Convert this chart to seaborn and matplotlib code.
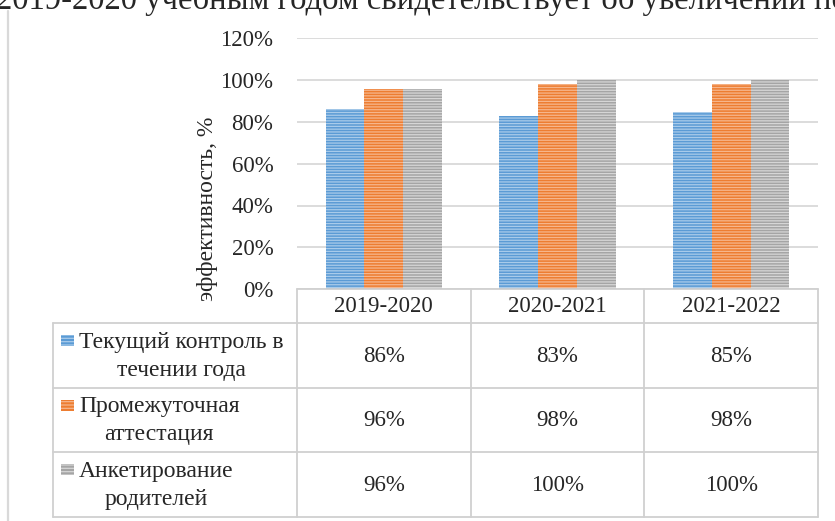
import numpy as np
import pandas as pd

import matplotlib
matplotlib.use('Agg')

from matplotlib import pyplot as plt
from matplotlib.patches import Rectangle
import seaborn as sns

# data
years = ['2019-2020', '2020-2021', '2021-2022']
series = ['Текущий контроль в\nтечении года', 'Промежуточная\nаттестация', 'Анкетирование\nродителей']
current = [86, 83, 85]
interim = [96, 98, 98]
parents = [96, 100, 100]
yticks = [0, 20, 40, 60, 80, 100, 120]
ylabel = 'эффективность, %'
top_text = '2019-2020 учебным годом свидетельствует об увеличении по'

colors = ['#5b9bd5', '#ed7d31', '#a5a5a5']
stripe_colors = ['#a9cbea', '#f6b68c', '#d6d6d6']
grid_color = '#d9d9d9'

W, H = 835, 521

sns.set_style('white')
plt.rcParams['font.family'] = ['Liberation Serif', 'DejaVu Serif']
plt.rcParams['hatch.linewidth'] = 0.9

df = pd.DataFrame({
    'year': years * 3,
    'series': np.repeat(series, len(years)),
    'value': current + interim + parents,
})


def fx(px):
    return px / W


def fy(py):
    return 1 - py / H


fig = plt.figure(figsize=(W / 100, H / 100), dpi=100)

# plot area in pixels
x0, x1 = 297, 818
y0, ytop = 289, 38.5
ax = fig.add_axes([fx(x0), fy(y0), fx(x1) - fx(x0), fy(ytop) - fy(y0)])

sns.barplot(data=df, x='year', y='value', hue='series', palette=colors,
            width=0.67, gap=0, saturation=1, errorbar=None, legend=False,
            ax=ax, zorder=3)

for i, cont in enumerate(ax.containers):
    for bar in cont:
        bar.set_hatch('------')
        bar.set_edgecolor(stripe_colors[i])
        bar.set_linewidth(0)

ax.set_xlim(-0.5, len(years) - 0.5)
ax.set_ylim(0, 120)
ax.set_yticks(yticks)
ax.set_yticklabels([f'{v}%' for v in yticks])
ax.set_xticks([])
ax.set_xlabel('')
ax.set_ylabel('')
ax.tick_params(axis='y', length=0, labelsize=16.5, pad=17)
ax.yaxis.grid(True, color=grid_color, lw=1.3)
ax.set_axisbelow(True)
sns.despine(ax=ax, left=True, bottom=True)

fig.text(fx(207), fy(208.5), ylabel, rotation=90, ha='center', va='center', fontsize=17)

# clipped sentence at the top of the page
fig.text(fx(-4), fy(9.5), top_text, ha='left', va='baseline', fontsize=23.5)

# data table under the chart, drawn in pixel coordinates
tab = fig.add_axes([0, 0, 1, 1])
tab.set_xlim(0, W)
tab.set_ylim(H, 0)
tab.axis('off')

line_kw = dict(color='#d0d0d0', lw=1.3)
col_edges = np.linspace(x0, x1, len(years) + 1)
lab_x0 = 53
hdr_bottom = 323
row_edges = np.linspace(hdr_bottom, 516.5, len(series) + 1)

tab.plot([8, 8], [11, H], color=grid_color, lw=1.6)

tab.plot([x0, x1], [y0, y0], **line_kw)
for ry in row_edges:
    tab.plot([lab_x0, x1], [ry, ry], **line_kw)
for cx in col_edges:
    tab.plot([cx, cx], [y0, row_edges[-1]], **line_kw)
tab.plot([lab_x0, lab_x0], [hdr_bottom, row_edges[-1]], **line_kw)

for j, yr in enumerate(years):
    cx = (col_edges[j] + col_edges[j + 1]) / 2
    tab.text(cx, (y0 + hdr_bottom) / 2 + 1, yr, ha='center', va='center', fontsize=16.5)

values = [current, interim, parents]
for i, name in enumerate(series):
    cy = (row_edges[i] + row_edges[i + 1]) / 2
    tab.add_patch(Rectangle((61, cy - 20), 13, 11, facecolor=colors[i],
                            edgecolor=stripe_colors[i], hatch='-----', lw=0))
    tab.text(79, cy + 1, name, ha='left', va='center', multialignment='center',
             fontsize=17, linespacing=1.45)
    for j in range(len(years)):
        cx = (col_edges[j] + col_edges[j + 1]) / 2
        tab.text(cx, cy + 1, f'{values[i][j]}%', ha='center', va='center', fontsize=16.5)

plt.savefig('out.png', dpi=100)
plt.close(fig)
